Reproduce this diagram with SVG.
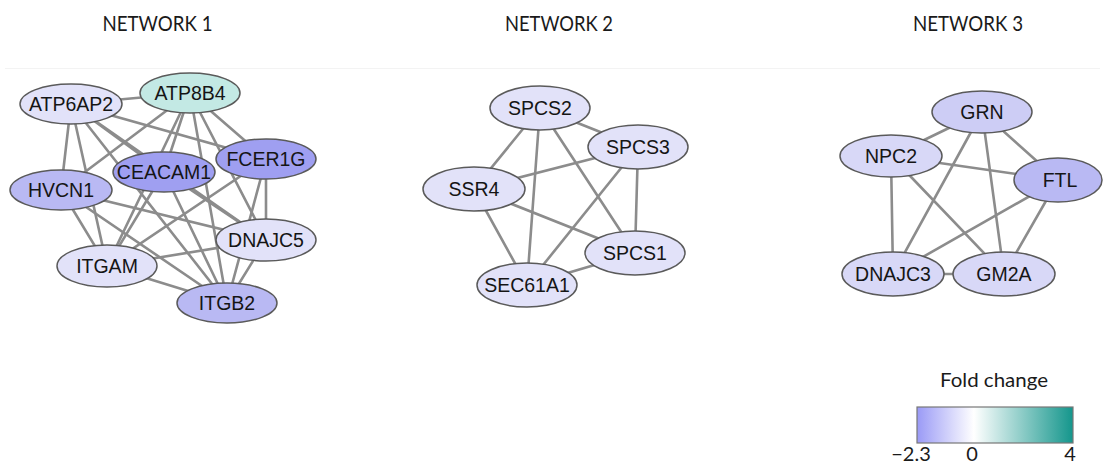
<svg xmlns="http://www.w3.org/2000/svg" width="1105" height="468" viewBox="0 0 1105 468">
  <style>
    .title { font-family: Lato, "Open Sans", "Liberation Sans", sans-serif; font-size: 21px; fill: #1a1a1a; text-anchor: middle; }
    .legend { font-family: Lato, "Open Sans", "Liberation Sans", sans-serif; font-size: 20px; fill: #1a1a1a; text-anchor: middle; }
    .node ellipse { stroke: #5a5a5a; stroke-width: 1.5; }
    .node text { font-family: "Liberation Sans", Arial, sans-serif; font-size: 19.5px; fill: #151515; text-anchor: middle; dominant-baseline: central; }
    .edges line { stroke: #8c8c8c; stroke-width: 2.6; stroke-linecap: round; }
    .c0 { fill: #e2e2f9; }
    .c1 { fill: #d8d8f7; }
    .c2 { fill: #cdcdf5; }
    .c3 { fill: #b9b9f3; }
    .c4 { fill: #9f9ff1; }
    .up { fill: #c3e9e4; }
  </style>
  <defs>
    <linearGradient id="fold" x1="0" y1="0" x2="1" y2="0">
      <stop offset="0" stop-color="#9a9af6"/>
      <stop offset="0.365" stop-color="#ffffff"/>
      <stop offset="1" stop-color="#14968c"/>
    </linearGradient>
  </defs>

  <rect width="1105" height="468" fill="#ffffff"/>
  <line x1="5" y1="68.5" x2="1100" y2="68.5" stroke="#f3f3f3" stroke-width="1"/>

  <!-- panel titles -->
  <text class="title" x="157.5" y="31" textLength="110" lengthAdjust="spacingAndGlyphs">NETWORK 1</text>
  <text class="title" x="559" y="31" textLength="108" lengthAdjust="spacingAndGlyphs">NETWORK 2</text>
  <text class="title" x="968" y="31" textLength="110" lengthAdjust="spacingAndGlyphs">NETWORK 3</text>

  <!-- interactions -->
  <g id="connectors" class="edges">
    <!-- network 1 -->
    <line x1="71" y1="104" x2="190" y2="93"/>
    <line x1="71" y1="104" x2="61" y2="190"/>
    <line x1="71" y1="104" x2="164" y2="172"/>
    <line x1="71" y1="104" x2="266" y2="159"/>
    <line x1="71" y1="104" x2="266" y2="240"/>
    <line x1="71" y1="104" x2="227" y2="303"/>
    <line x1="71" y1="104" x2="107" y2="266"/>
    <line x1="190" y1="93" x2="61" y2="190"/>
    <line x1="190" y1="93" x2="164" y2="172"/>
    <line x1="190" y1="93" x2="266" y2="159"/>
    <line x1="190" y1="93" x2="266" y2="240"/>
    <line x1="190" y1="93" x2="227" y2="303"/>
    <line x1="190" y1="93" x2="107" y2="266"/>
    <line x1="164" y1="172" x2="107" y2="266"/>
    <line x1="164" y1="172" x2="227" y2="303"/>
    <line x1="164" y1="172" x2="266" y2="240"/>
    <line x1="266" y1="159" x2="107" y2="266"/>
    <line x1="266" y1="159" x2="266" y2="240"/>
    <line x1="266" y1="159" x2="227" y2="303"/>
    <line x1="61" y1="190" x2="107" y2="266"/>
    <line x1="61" y1="190" x2="227" y2="303"/>
    <line x1="61" y1="190" x2="266" y2="240"/>
    <line x1="266" y1="240" x2="107" y2="266"/>
    <line x1="266" y1="240" x2="227" y2="303"/>
    <line x1="107" y1="266" x2="227" y2="303"/>
    <!-- network 2 -->
    <line x1="540" y1="108" x2="638" y2="147"/>
    <line x1="540" y1="108" x2="474" y2="189"/>
    <line x1="540" y1="108" x2="527" y2="285"/>
    <line x1="540" y1="108" x2="635" y2="253"/>
    <line x1="638" y1="147" x2="474" y2="189"/>
    <line x1="638" y1="147" x2="527" y2="285"/>
    <line x1="638" y1="147" x2="635" y2="253"/>
    <line x1="474" y1="189" x2="635" y2="253"/>
    <line x1="474" y1="189" x2="527" y2="285"/>
    <line x1="527" y1="285" x2="635" y2="253"/>
    <!-- network 3 -->
    <line x1="982" y1="112" x2="891" y2="156"/>
    <line x1="982" y1="112" x2="1058" y2="180"/>
    <line x1="982" y1="112" x2="893" y2="274"/>
    <line x1="982" y1="112" x2="1004" y2="274"/>
    <line x1="891" y1="156" x2="1058" y2="180"/>
    <line x1="891" y1="156" x2="893" y2="274"/>
    <line x1="891" y1="156" x2="1004" y2="274"/>
    <line x1="1058" y1="180" x2="893" y2="274"/>
    <line x1="1058" y1="180" x2="1004" y2="274"/>
    <line x1="893" y1="274" x2="1004" y2="274"/>
  </g>

  <!-- network 1 nodes -->
  <g id="ATP6AP2" class="node"><ellipse class="c0" cx="71" cy="104" rx="51" ry="20"/><text x="71" y="104">ATP6AP2</text></g>
  <g id="ATP8B4" class="node"><ellipse class="up" cx="190" cy="93" rx="50" ry="20"/><text x="190" y="93">ATP8B4</text></g>
  <g id="HVCN1" class="node"><ellipse class="c3" cx="61" cy="190" rx="51" ry="20"/><text x="61" y="190">HVCN1</text></g>
  <g id="CEACAM1" class="node"><ellipse class="c4" cx="164" cy="172" rx="51" ry="20"/><text x="164" y="172">CEACAM1</text></g>
  <g id="FCER1G" class="node"><ellipse class="c4" cx="266" cy="159" rx="50" ry="20"/><text x="266" y="159">FCER1G</text></g>
  <g id="DNAJC5" class="node"><ellipse class="c0" cx="266" cy="240" rx="50" ry="21"/><text x="266" y="240">DNAJC5</text></g>
  <g id="ITGAM" class="node"><ellipse class="c0" cx="107" cy="266" rx="50" ry="21"/><text x="107" y="266">ITGAM</text></g>
  <g id="ITGB2" class="node"><ellipse class="c3" cx="227" cy="303" rx="50" ry="20"/><text x="227" y="303">ITGB2</text></g>

  <!-- network 2 nodes -->
  <g id="SPCS2" class="node"><ellipse class="c0" cx="540" cy="108" rx="50" ry="22"/><text x="540" y="108">SPCS2</text></g>
  <g id="SPCS3" class="node"><ellipse class="c0" cx="638" cy="147" rx="50" ry="22"/><text x="638" y="147">SPCS3</text></g>
  <g id="SSR4" class="node"><ellipse class="c0" cx="474" cy="189" rx="51" ry="22"/><text x="474" y="189">SSR4</text></g>
  <g id="SPCS1" class="node"><ellipse class="c0" cx="635" cy="253" rx="50" ry="22"/><text x="635" y="253">SPCS1</text></g>
  <g id="SEC61A1" class="node"><ellipse class="c0" cx="527" cy="285" rx="50" ry="22"/><text x="527" y="285">SEC61A1</text></g>

  <!-- network 3 nodes -->
  <g id="GRN" class="node"><ellipse class="c2" cx="982" cy="112" rx="50" ry="21"/><text x="982" y="112">GRN</text></g>
  <g id="NPC2" class="node"><ellipse class="c1" cx="891" cy="156" rx="51" ry="21"/><text x="891" y="156">NPC2</text></g>
  <g id="FTL" class="node"><ellipse class="c3" cx="1058" cy="180" rx="44" ry="22"/><text x="1060" y="180">FTL</text></g>
  <g id="DNAJC3" class="node"><ellipse class="c1" cx="893" cy="274" rx="51" ry="22"/><text x="893" y="274">DNAJC3</text></g>
  <g id="GM2A" class="node"><ellipse class="c1" cx="1004" cy="274" rx="51" ry="22"/><text x="1004" y="274">GM2A</text></g>

  <!-- colour scale -->
  <g id="legend">
    <text class="legend" x="994" y="387" textLength="108" lengthAdjust="spacingAndGlyphs">Fold change</text>
    <rect x="917" y="407" width="156" height="36" fill="url(#fold)" stroke="#777777" stroke-width="1.2"/>
    <text class="legend" x="911" y="461">−2.3</text>
    <text class="legend" x="972" y="461">0</text>
    <text class="legend" x="1070" y="461">4</text>
  </g>
</svg>
